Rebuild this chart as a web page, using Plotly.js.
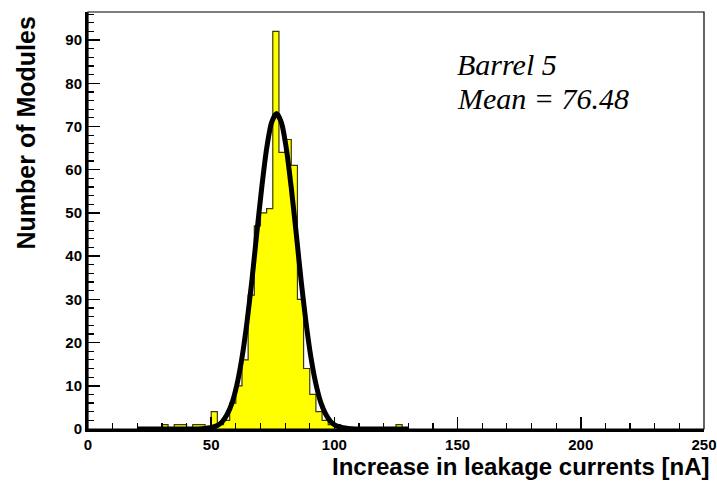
<!DOCTYPE html>
<html>
<head>
<meta charset="utf-8">
<script src="https://cdn.plot.ly/plotly-3.0.1.min.js"></script>
<style>html,body{margin:0;padding:0;background:#fff;}#chart{width:717px;height:482px;}</style>
</head>
<body>
<div id="chart"></div>
<script>
// Histogram bins (low edge, nA) and counts
const binWidth = 2.5;
const binLow = [30, 35, 37.5, 42.5, 45, 50, 52.5, 55, 57.5, 60, 62.5, 65, 67.5, 70, 72.5, 75, 77.5, 80, 82.5, 85, 87.5, 90, 92.5, 95, 97.5, 100, 125];
const counts = [1, 1, 1, 1, 1, 4, 1, 2, 6, 10, 16, 31, 47, 50, 51, 92, 64, 67, 61, 30, 14, 8, 4, 2, 1, 1, 1];

// Fit curve points
const fitX = [20, 40, 44.5, 49.5, 52.5, 54.5, 56.5, 58.5, 60.5, 62.5, 64.5, 66.5, 68.5, 70.5, 72.5, 74.5, 76.5, 78.5, 80.5, 82.5, 84.5, 86.5, 88.5, 90.5, 92.5, 94.5, 96.5, 98.5, 100.5, 103.5, 108.5, 113, 130];
const fitY = [0, 0, 0.02, 0.3, 0.8, 1.7, 3.4, 6.1, 10.4, 16.5, 24.6, 34.3, 45.3, 55.8, 64.9, 70.9, 73, 70.9, 64.9, 55.8, 45.3, 34.3, 24.6, 16.5, 10.4, 6.1, 3.4, 1.7, 0.8, 0.3, 0.02, 0, 0];

const xTitle = 'Increase in leakage currents [nA]';
const yTitle = 'Number of Modules';
const label1 = 'Barrel 5';
const label2 = 'Mean = 76.48';

// Build the histogram outline (step contour) from the bins
const stepX = [], stepY = [];
for (let i = 0; i < binLow.length; i++) {
  const lo = binLow[i], hi = lo + binWidth;
  if (i === 0 || Math.abs(binLow[i - 1] + binWidth - lo) > 1e-9) { stepX.push(lo); stepY.push(0); }
  stepX.push(lo); stepY.push(counts[i]);
  stepX.push(hi); stepY.push(counts[i]);
  if (i === binLow.length - 1 || Math.abs(binLow[i + 1] - hi) > 1e-9) { stepX.push(hi); stepY.push(0); }
}

const sans = 'Liberation Sans, Arial, Helvetica, sans-serif';
const tickFont = {family: sans, size: 15, color: '#000', weight: 'bold'};

const traces = [
  {
    type: 'scatter',
    mode: 'lines',
    x: stepX,
    y: stepY,
    fill: 'tozeroy',
    fillcolor: '#ffff00',
    line: {color: '#3a3a00', width: 1.2},
    hoverinfo: 'x+y'
  },
  {
    type: 'scatter',
    mode: 'lines',
    x: fitX,
    y: fitY,
    line: {color: '#000', width: 5, shape: 'spline', smoothing: 0.6}
  }
];

const layout = {
  width: 717, height: 482,
  margin: {l: 88, r: 13, t: 12, b: 53},
  paper_bgcolor: '#fff', plot_bgcolor: '#fff',
  showlegend: false,
  xaxis: {
    range: [0, 250.01], showgrid: false, zeroline: false,
    showline: true, linecolor: '#000', linewidth: 3,
    ticks: 'inside', ticklen: 12, tickwidth: 1.5, tickcolor: '#000',
    dtick: 50, tick0: 0,
    minor: {dtick: 10, ticks: 'inside', ticklen: 6, tickwidth: 1.2, tickcolor: '#000'},
    tickfont: tickFont,
    ticklabeloverflow: 'allow'
  },
  yaxis: {
    range: [0, 96.5], showgrid: false, zeroline: false,
    showline: true, linecolor: '#000', linewidth: 3,
    ticks: 'inside', ticklen: 12, tickwidth: 1.5, tickcolor: '#000',
    dtick: 10, tick0: 0,
    minor: {dtick: 2, ticks: 'inside', ticklen: 6, tickwidth: 1.2, tickcolor: '#000'},
    tickfont: tickFont
  },
  shapes: [
    {type: 'rect', xref: 'paper', yref: 'paper', x0: 0, x1: 1, y0: 0, y1: 1, line: {color: '#000', width: 1.2}}
  ],
  annotations: [
    {xref: 'paper', yref: 'paper', x: 1.0, y: 0, xanchor: 'right', yanchor: 'top', xshift: 7, yshift: -22,
     text: xTitle, showarrow: false, font: {family: sans, size: 24, color: '#000', weight: 'bold'}},
    {xref: 'paper', yref: 'paper', x: 0, y: 1, xanchor: 'right', yanchor: 'top', xshift: -47, yshift: -3,
     text: yTitle, textangle: -90, showarrow: false, font: {family: sans, size: 25, color: '#000', weight: 'bold'}},
    {xref: 'paper', yref: 'paper', x: 0.595, y: 0.873, xanchor: 'left', yanchor: 'middle',
     text: '<i>' + label1 + '</i>', showarrow: false, font: {family: 'Liberation Serif, Times New Roman, serif', size: 30, color: '#000'}},
    {xref: 'paper', yref: 'paper', x: 0.595, y: 0.792, xanchor: 'left', yanchor: 'middle',
     text: '<i>' + label2 + '</i>', showarrow: false, font: {family: 'Liberation Serif, Times New Roman, serif', size: 30, color: '#000'}}
  ]
};

Plotly.newPlot('chart', traces, layout, {displayModeBar: false, staticPlot: true});
</script>
</body>
</html>
